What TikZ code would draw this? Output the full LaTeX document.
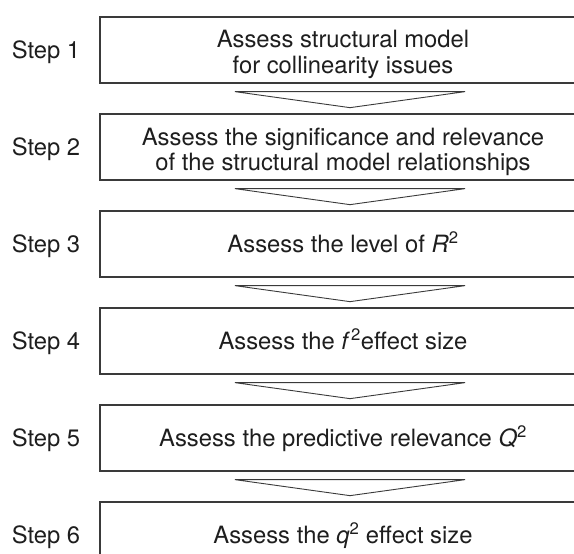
\documentclass[tikz,border=0pt]{standalone}
\usepackage{fontspec}
\setmainfont{TeX Gyre Heros}
\usetikzlibrary{calc}
\definecolor{linegray}{HTML}{3A3A3A}
\definecolor{textgray}{HTML}{1E1E1E}
\tikzset{
  stepbox/.style={draw=linegray, line width=1.3pt, minimum width=486pt, minimum height=66pt,
    inner sep=0pt},
  boxtext/.style={text=textgray, font=\fontsize{23.8}{25}\selectfont, inner sep=0pt, anchor=base},
  steplabel/.style={text=textgray, font=\fontsize{23.8}{25}\selectfont, inner sep=0pt, anchor=base},
  blockarrow/.style={draw=linegray, line width=0.9pt, line join=miter}
}
\begin{document}
\begin{tikzpicture}[x=1pt,y=-1pt]
\useasboundingbox (0,0) rectangle (574,554);
\clip (0,0) rectangle (574,554);
\fill[white] (0,0) rectangle (574,554);
\foreach \i/\c in {1/50,2/147,3/244,4/341,5/438,6/535}{
  \node[stepbox] (b\i) at (343,\c) {};
  \node[steplabel] (s\i) at ($(b\i.center)+(-297,8.5)$) {Step \i};
}
% two-line texts
\node[boxtext] (t1a) at ($(b1.center)+(0,-2)$) {Assess structural model};
\node[boxtext] (t1b) at ($(b1.center)+(0,23)$) {for collinearity issues};
\node[boxtext] (t2a) at ($(b2.center)+(0,-2)$) {Assess the significance and relevance};
\node[boxtext] (t2b) at ($(b2.center)+(0,23)$) {of the structural model relationships};
% one-line texts
\node[boxtext] (t3) at ($(b3.center)+(0,8.5)$) {Assess the level of {\itshape R}\textsuperscript{2}};
\node[boxtext] (t4) at ($(b4.center)+(0,8.5)$) {Assess the {\itshape f\/}\kern1pt\textsuperscript{2}effect size};
\node[boxtext] (t5) at ($(b5.center)+(0,8.5)$) {Assess the predictive relevance {\itshape Q}\textsuperscript{2}};
\node[boxtext] (t6) at ($(b6.center)+(0,8.5)$) {Assess the {\itshape q}\textsuperscript{2} effect size};
\foreach \i in {1,...,5}{
  \draw[blockarrow] ($(b\i.south)+(-108,8)$) -- ($(b\i.south)+(122,8)$) -- ($(b\i.south)+(7,24)$) -- cycle;
}
\end{tikzpicture}
\end{document}
